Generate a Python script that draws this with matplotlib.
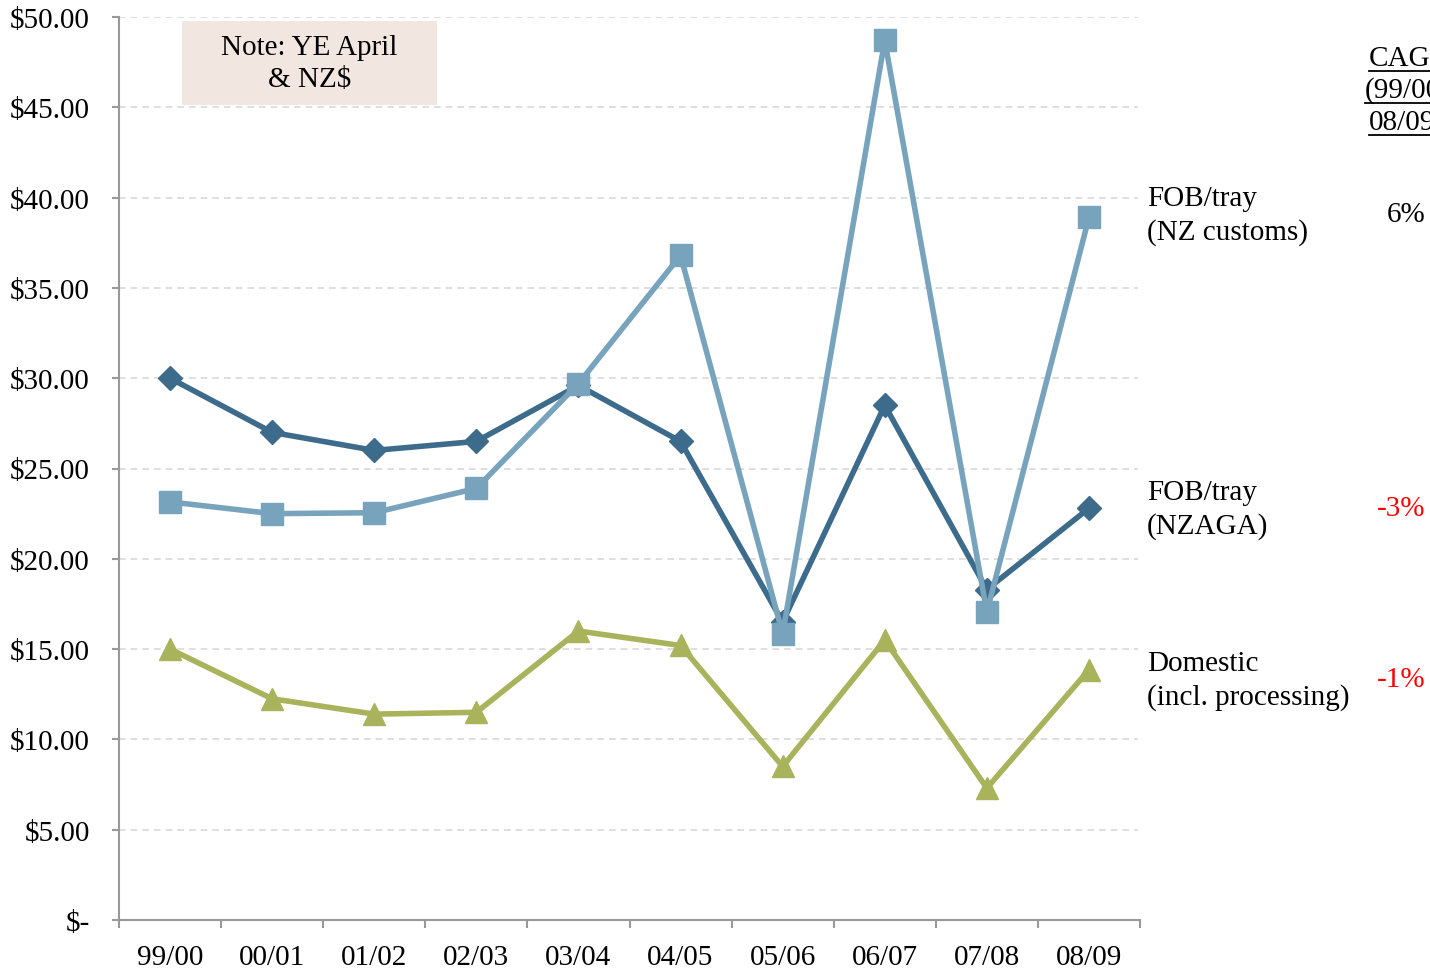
import numpy as np
import matplotlib.pyplot as plt
from matplotlib.patches import Rectangle
from matplotlib.lines import Line2D

plt.rcParams['font.family'] = ['Liberation Serif', 'DejaVu Serif']

years = ['99/00', '00/01', '01/02', '02/03', '03/04', '04/05', '05/06', '06/07', '07/08', '08/09']
fob_nzaga = [30.0, 27.0, 26.0, 26.5, 29.6, 26.5, 16.5, 28.5, 18.3, 22.8]
fob_customs = [23.15, 22.5, 22.55, 23.9, 29.7, 36.8, 15.85, 48.7, 17.05, 38.9]
domestic = [15.0, 12.25, 11.4, 11.5, 16.0, 15.2, 8.5, 15.5, 7.3, 13.85]

yticks = [0, 5, 10, 15, 20, 25, 30, 35, 40, 45, 50]
ylabels = ['$-'] + ['$%.2f' % v for v in yticks[1:]]

series_labels = ['FOB/tray\n(NZ customs)', 'FOB/tray\n(NZAGA)', 'Domestic\n(incl. processing)']
cagr = ['6%', '-3%', '-1%']

dark = '#3d6b8b'
light = '#78a3bc'
olive = '#a9b35c'
fs = 21

W, H = 1430, 970
fig = plt.figure(figsize=(W / 100, H / 100), dpi=100)
ax = fig.add_axes([119 / W, 1 - 921 / H, (1140 - 119) / W, (921 - 18) / H])

x = np.arange(len(years))
ax.plot(x, domestic, color=olive, lw=4, marker='^', ms=16, zorder=3)
ax.plot(x, fob_nzaga, color=dark, lw=4, marker='D', ms=12, zorder=4)
ax.plot(x, fob_customs, color=light, lw=4, marker='s', ms=15.5, zorder=5)

ax.set_xlim(-0.5, len(years) - 0.5)
ax.set_ylim(0, 50)
ax.set_yticks(yticks)
ax.set_yticklabels(ylabels, fontsize=fs)
ax.set_xticks(x)
ax.set_xticklabels(years, fontsize=fs)
ax.set_xticks(np.arange(-0.5, len(years)), minor=True)
ax.tick_params(axis='x', which='major', length=0, pad=17)
ax.tick_params(axis='x', which='minor', length=6, color='#999999', width=1.5)
ax.tick_params(axis='y', length=5, color='#999999', width=1.5, pad=16)

for s in ['top', 'right']:
    ax.spines[s].set_visible(False)
for s in ['left', 'bottom']:
    ax.spines[s].set_color('#999999')
    ax.spines[s].set_linewidth(1.5)

for v in yticks[1:]:
    ax.axhline(v, xmin=0, xmax=(1138 - 119) / (1140 - 119), color='#d9d9d9',
               lw=1.2, ls=(0, (4, 3)), zorder=1)

# note box
ax.add_patch(Rectangle((0.0617, 0.9025), 0.25, 0.093, transform=ax.transAxes,
                       facecolor='#f2e6e0', edgecolor='none', zorder=2))
ax.text(0.1866, 0.949, 'Note: YE April\n& NZ$', transform=ax.transAxes,
        ha='center', va='center', fontsize=fs, linespacing=1.3, zorder=3)

# right-hand labels
label_y = [216, 510, 681]
for lab, c, yy in zip(series_labels, cagr, label_y):
    fig.text(1147 / W, 1 - yy / H, lab, ha='left', va='center', fontsize=fs, linespacing=1.3)
    fig.text(1425 / W, 1 - (yy - 1) / H, c, ha='right', va='center', fontsize=fs,
             color='black' if not c.startswith('-') else '#ff0000')

head = [('CAGR', 1369, 59), ('(99/00-', 1365, 91), ('08/09)', 1369, 123)]
for t, hx, hy in head:
    fig.text(hx / W, 1 - hy / H, t, ha='left', va='center', fontsize=fs)
    fig.add_artist(Line2D([hx / W, 1.0], [1 - (hy + 13) / H] * 2, color='black', lw=1.3))

fig.savefig('out.png', dpi=100)
